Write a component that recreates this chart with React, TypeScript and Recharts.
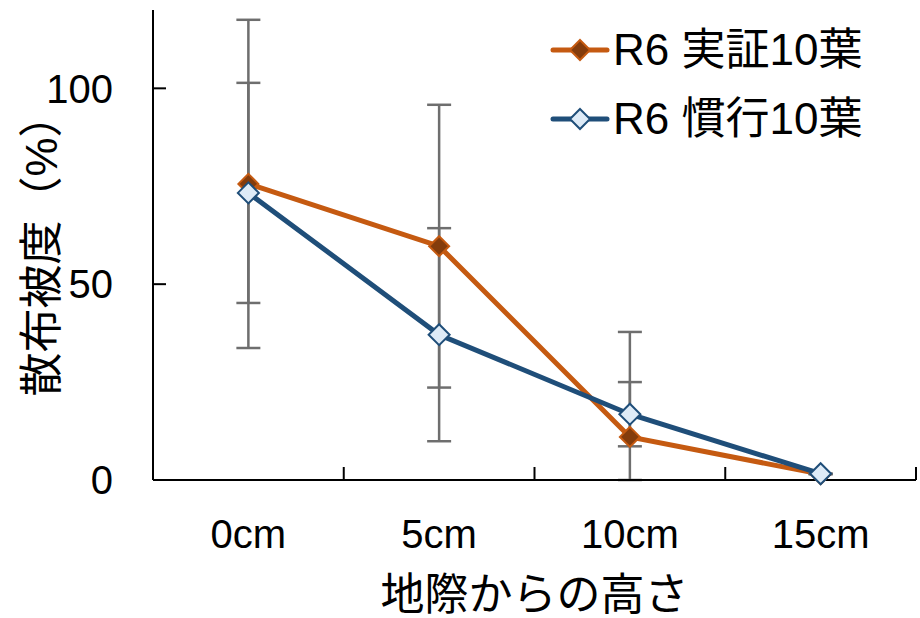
import { LineChart, Line, XAxis, YAxis, ErrorBar, Legend } from "recharts";

// 地際からの高さ
const heights = ["0cm", "5cm", "10cm", "15cm"];

// R6 実証10葉
const jisshoName = "R6 実証10葉";
const jisshoValues = [75.6, 59.7, 11.0, 1.5];
const jisshoErrors = [41.9, 36.1, 26.8, 0];

// R6 慣行10葉
const kankoName = "R6 慣行10葉";
const kankoValues = [73.3, 37.1, 16.8, 1.6];
const kankoErrors = [28.1, 27.2, 8.2, 0];

const yTicks = [0, 50, 100];

const xTitle = "地際からの高さ";
const yTitle = "散布被度（%）";

const FONT = "'Liberation Sans', 'Noto Sans CJK JP', sans-serif";
const ORANGE = "#C55A11";
const ORANGE_FILL = "#843C0C";
const BLUE = "#1F4E79";
const BLUE_FILL = "#DEEBF7";
const ERR = "#6E6E6E";

// error bars stop at the axis (0)
const clipErr = (v: number, e: number) => [Math.min(v, e), e];

const data = heights.map((h, i) => ({
  pos: h,
  jissho: jisshoValues[i],
  kanko: kankoValues[i],
  jisshoErr: clipErr(jisshoValues[i], jisshoErrors[i]),
  kankoErr: clipErr(kankoValues[i], kankoErrors[i]),
}));

const diamondPoints = (cx: number, cy: number, r: number) =>
  `${cx},${cy - r} ${cx + r},${cy} ${cx},${cy + r} ${cx - r},${cy}`;

const makeDot = (fill: string, stroke: string, r: number) => (props: any) => {
  const { cx, cy, index } = props;
  if (cx == null || cy == null) return <g key={index} />;
  return (
    <polygon
      key={index}
      points={diamondPoints(cx, cy, r)}
      fill={fill}
      stroke={stroke}
      strokeWidth={2}
      strokeLinejoin="miter"
    />
  );
};

const XTick = (props: any) => {
  const { x, y, payload, index, width, visibleTicksCount } = props;
  const w = typeof width === "number" ? width : 763;
  const n = visibleTicksCount || heights.length;
  const half = w / n / 2;
  return (
    <g>
      <line x1={x - half} y1={y} x2={x - half} y2={y - 13} stroke="#000" strokeWidth={2} />
      {index === n - 1 && (
        <line x1={x + half} y1={y} x2={x + half} y2={y - 13} stroke="#000" strokeWidth={2} />
      )}
      <text x={x} y={y + 40} dy="0.71em" textAnchor="middle" fontSize={40} fill="#000">
        {payload.value}
      </text>
    </g>
  );
};

const YTick = (props: any) => {
  const { x, y, payload } = props;
  return (
    <g>
      <line x1={x} y1={y} x2={x + 13} y2={y} stroke="#000" strokeWidth={2} />
      <text x={x - 40} y={y} dy="0.355em" textAnchor="end" fontSize={40} fill="#000">
        {payload.value}
      </text>
    </g>
  );
};

const legendItems = [
  { name: jisshoName, color: ORANGE, fill: ORANGE_FILL },
  { name: kankoName, color: BLUE, fill: BLUE_FILL },
];

const LegendContent = () => (
  <div>
    {legendItems.map((it) => (
      <div key={it.name} style={{ display: "flex", alignItems: "center", height: 69 }}>
        <svg width={60} height={30}>
          <line x1={3} y1={15} x2={57} y2={15} stroke={it.color} strokeWidth={5} strokeLinecap="round" />
          <polygon points={diamondPoints(30, 15, 10)} fill={it.fill} stroke={it.color} strokeWidth={2} />
        </svg>
        <span style={{ fontSize: 44, lineHeight: 1, marginLeft: 3, color: "#000", whiteSpace: "nowrap" }}>
          {it.name}
        </span>
      </div>
    ))}
  </div>
);

export default function App() {
  return (
    <div style={{ position: "absolute", left: 0, top: 0, width: 920, height: 618, fontFamily: FONT, background: "#fff" }}>
      <LineChart width={920} height={618} data={data} margin={{ top: 10, right: 4, bottom: 0, left: 0 }}>
        <XAxis
          dataKey="pos"
          scale="band"
          height={138}
          axisLine={{ stroke: "#000", strokeWidth: 2 }}
          tickLine={false}
          tickSize={0}
          tickMargin={0}
          tick={<XTick />}
          interval={0}
          label={{ value: xTitle, position: "insideBottom", offset: 8, fontSize: 44, fill: "#000" }}
        />
        <YAxis
          type="number"
          domain={[0, 120]}
          ticks={yTicks}
          width={153}
          axisLine={{ stroke: "#000", strokeWidth: 2 }}
          tickLine={false}
          tickSize={0}
          tickMargin={0}
          tick={<YTick />}
          label={{
            value: yTitle,
            angle: -90,
            position: "insideLeft",
            offset: 41,
            fontSize: 44,
            fill: "#000",
            style: { textAnchor: "middle" },
          }}
        />
        <Legend
          layout="vertical"
          align="center"
          verticalAlign="middle"
          content={<LegendContent />}
          wrapperStyle={{ left: 550, top: 15, width: 340, height: 140 }}
        />
        <Line
          dataKey="jissho"
          name={jisshoName}
          stroke={ORANGE}
          strokeWidth={5}
          dot={makeDot(ORANGE_FILL, ORANGE, 10)}
          activeDot={false}
          isAnimationActive={false}
        >
          <ErrorBar dataKey="jisshoErr" direction="y" width={12} stroke={ERR} strokeWidth={2.5} />
        </Line>
        <Line
          dataKey="kanko"
          name={kankoName}
          stroke={BLUE}
          strokeWidth={5}
          dot={makeDot(BLUE_FILL, BLUE, 10.5)}
          activeDot={false}
          isAnimationActive={false}
        >
          <ErrorBar dataKey="kankoErr" direction="y" width={12} stroke={ERR} strokeWidth={2.5} />
        </Line>
      </LineChart>
    </div>
  );
}
